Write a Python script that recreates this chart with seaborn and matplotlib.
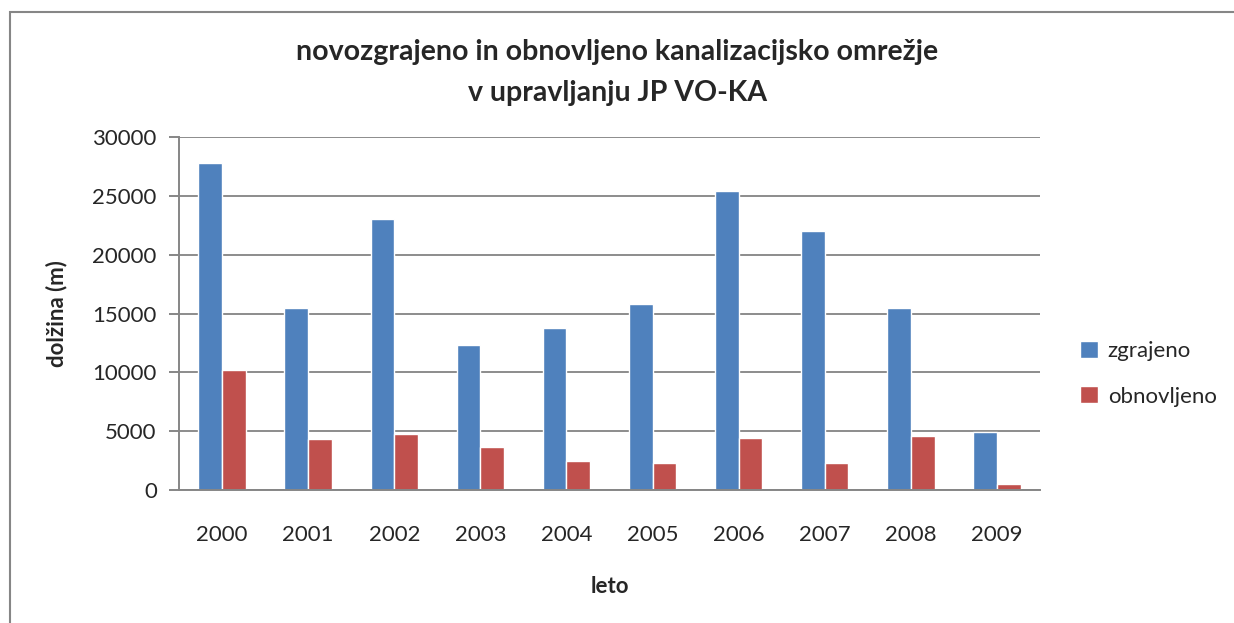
import numpy as np
import matplotlib
matplotlib.use("Agg")
import matplotlib.pyplot as plt
import pandas as pd
import seaborn as sns
from matplotlib.patches import Rectangle

years = ["2000", "2001", "2002", "2003", "2004", "2005", "2006", "2007", "2008", "2009"]
zgrajeno = [27750, 15450, 23000, 12300, 13800, 15800, 25450, 22000, 15450, 4950]
obnovljeno = [10200, 4300, 4800, 3650, 2480, 2330, 4450, 2330, 4620, 520]
series = ["zgrajeno", "obnovljeno"]
colors = ["#4F81BD", "#C0504D"]

df = pd.DataFrame({"leto": years * 2,
                   "dolzina": zgrajeno + obnovljeno,
                   "serija": [series[0]] * len(years) + [series[1]] * len(years)})

sns.set_style("white")
plt.rcParams['font.family'] = ['Lato', 'DejaVu Sans']

fig = plt.figure(figsize=(12.34, 6.23), dpi=100)
ax = fig.add_axes([179 / 1234, 1 - 490 / 623, 861 / 1234, 353 / 623])

sns.barplot(data=df, x="leto", y="dolzina", hue="serija", palette=colors,
            width=0.55, saturation=1, ax=ax, legend=True)

ax.set_ylim(0, 30000)
ax.set_yticks(range(0, 30001, 5000))
ax.yaxis.grid(True, color="#8c8c8c", linewidth=1.4)
ax.set_axisbelow(True)
for s in ["top", "right"]:
    ax.spines[s].set_visible(False)
for s in ["left", "bottom"]:
    ax.spines[s].set_color("#868686")
    ax.spines[s].set_linewidth(1.4)
ax.tick_params(axis="y", left=True, length=7, width=1.4, color="#868686",
               labelsize=16, pad=9)
ax.tick_params(axis="x", bottom=False, labelsize=16, pad=22)
ax.set_xlabel("leto", fontsize=16, fontweight="bold", labelpad=22)
ax.set_ylabel("dolžina (m)", fontsize=16, fontweight="bold", labelpad=18)

ax.legend(loc="center left", bbox_to_anchor=(1.036, 0.33), frameon=False,
          borderaxespad=0, fontsize=16, handlelength=0.8, handleheight=0.8,
          labelspacing=1.15, handletextpad=0.45)

fig.text(0.5, 1 - 52 / 623, "novozgrajeno in obnovljeno kanalizacijsko omrežje",
         ha="center", va="center", fontsize=20.5, fontweight="bold")
fig.text(0.5, 1 - 93 / 623, "v upravljanju JP VO-KA",
         ha="center", va="center", fontsize=20.5, fontweight="bold")

fig.patches.append(Rectangle((10 / 1234, -0.05), 1.2, 1 - 12 / 623 + 0.05,
                             transform=fig.transFigure, fill=False,
                             edgecolor="#868686", linewidth=1.5))

fig.savefig("out.png", dpi=100)
